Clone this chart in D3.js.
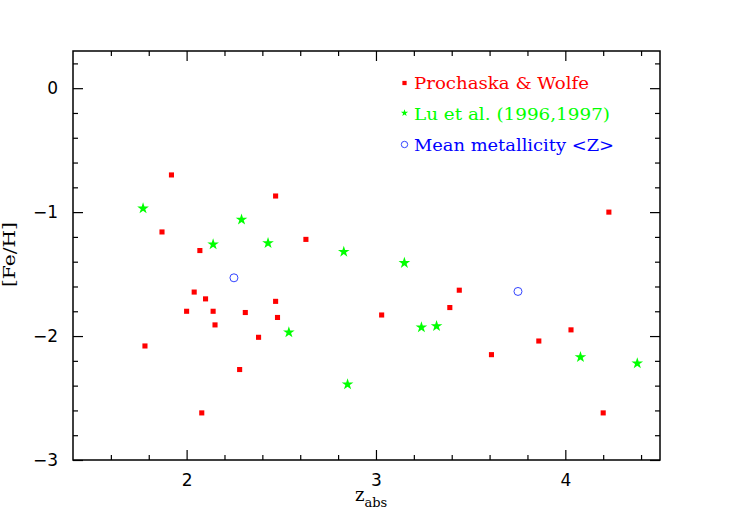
<!DOCTYPE html>
<html>
<head>
<meta charset="utf-8">
<script src="https://cdn.jsdelivr.net/npm/d3@7"></script>
<style>
  html, body { margin: 0; padding: 0; background: #fff; }
  svg { display: block; }
</style>
</head>
<body>
<svg id="chart" width="734" height="512"></svg>
<script>
// ---- Data ----
const pwZ  = [1.92, 1.87, 2.47, 4.23, 2.63, 2.07, 2.04, 2.10, 2.00, 2.14, 2.31, 2.47, 2.48, 2.15, 2.38, 1.78, 2.28, 2.08, 3.44, 3.03, 3.39, 4.03, 3.86, 3.61, 4.20];
const pwFe = [-0.70, -1.16, -0.87, -1.00, -1.22, -1.31, -1.645, -1.70, -1.80, -1.80, -1.81, -1.72, -1.85, -1.91, -2.01, -2.08, -2.27, -2.62, -1.63, -1.83, -1.77, -1.95, -2.04, -2.15, -2.62];
const luZ  = [1.77, 2.29, 2.14, 2.43, 2.54, 2.83, 3.15, 3.24, 3.32, 4.08, 4.38, 2.85];
const luFe = [-0.97, -1.06, -1.26, -1.25, -1.97, -1.32, -1.41, -1.93, -1.92, -2.17, -2.22, -2.39];
const meanZ  = [2.25, 3.75];
const meanFe = [-1.53, -1.64];

const xDomain = [1.4, 4.5];
const yDomain = [-3, 0.3];
const xMajor = [2, 3, 4];
const xMinor = [1.6, 1.8, 2.2, 2.4, 2.6, 2.8, 3.2, 3.4, 3.6, 3.8, 4.2, 4.4];
const yMajor = [0, -1, -2, -3];
const yMinor = [0.2, -0.2, -0.4, -0.6, -0.8, -1.2, -1.4, -1.6, -1.8, -2.2, -2.4, -2.6, -2.8];

const legendLabels = ["Prochaska & Wolfe", "Lu et al. (1996,1997)", "Mean metallicity <Z>"];
const legendColors = ["#ff0000", "#00ff00", "#0000ff"];
const xTitle = "z";
const xTitleSub = "abs";
const yTitle = "[Fe/H]";

// ---- Layout ----
const L = 73, R = 660, T = 51, B = 460;
const svg = d3.select("#chart");
const x = d3.scaleLinear().domain(xDomain).range([L, R]);
const y = d3.scaleLinear().domain(yDomain).range([B, T]);

const tickFont = "'DejaVu Sans', sans-serif";
const serifFont = "'DejaVu Serif', serif";

function styleAxis(g) {
  g.select(".domain").remove();
  g.selectAll(".tick line").attr("stroke", "#000").attr("stroke-width", 1.2);
  g.selectAll(".tick text").attr("fill", "#000").style("font-family", tickFont).style("font-size", "17px");
}

// Bottom axis (labels)
svg.append("g").attr("transform", `translate(0,${B})`)
  .call(d3.axisBottom(x).tickValues(xMajor).tickSize(-10).tickPadding(14).tickFormat(d3.format("d")))
  .call(styleAxis);
svg.append("g").attr("transform", `translate(0,${B})`)
  .call(d3.axisBottom(x).tickValues(xMinor).tickSize(-5).tickFormat(""))
  .call(styleAxis);
// Top axis (ticks only)
svg.append("g").attr("transform", `translate(0,${T})`)
  .call(d3.axisTop(x).tickValues(xMajor).tickSize(-10).tickFormat(""))
  .call(styleAxis);
svg.append("g").attr("transform", `translate(0,${T})`)
  .call(d3.axisTop(x).tickValues(xMinor).tickSize(-5).tickFormat(""))
  .call(styleAxis);
// Left axis (labels)
svg.append("g").attr("transform", `translate(${L},0)`)
  .call(d3.axisLeft(y).tickValues(yMajor).tickSize(-10).tickPadding(15).tickFormat(d3.format("d")))
  .call(styleAxis);
svg.append("g").attr("transform", `translate(${L},0)`)
  .call(d3.axisLeft(y).tickValues(yMinor).tickSize(-5).tickFormat(""))
  .call(styleAxis);
// Right axis (ticks only)
svg.append("g").attr("transform", `translate(${R},0)`)
  .call(d3.axisRight(y).tickValues(yMajor).tickSize(-10).tickFormat(""))
  .call(styleAxis);
svg.append("g").attr("transform", `translate(${R},0)`)
  .call(d3.axisRight(y).tickValues(yMinor).tickSize(-5).tickFormat(""))
  .call(styleAxis);

// Frame
svg.append("rect").attr("x", L).attr("y", T).attr("width", R - L).attr("height", B - T)
  .attr("fill", "none").attr("stroke", "#000").attr("stroke-width", 1.5);

// ---- Marks ----
const square = d3.symbol().type(d3.symbolSquare).size(26);
const star = d3.symbol().type(d3.symbolStar).size(42);

svg.append("g").selectAll("path").data(d3.range(pwZ.length)).join("path")
  .attr("transform", i => `translate(${x(pwZ[i])},${y(pwFe[i])})`)
  .attr("d", square).attr("fill", legendColors[0]);

svg.append("g").selectAll("path").data(d3.range(luZ.length)).join("path")
  .attr("transform", i => `translate(${x(luZ[i])},${y(luFe[i])})`)
  .attr("d", star).attr("fill", legendColors[1]);

svg.append("g").selectAll("circle").data(d3.range(meanZ.length)).join("circle")
  .attr("cx", i => x(meanZ[i])).attr("cy", i => y(meanFe[i])).attr("r", 4)
  .attr("fill", "none").attr("stroke", "#3344ff").attr("stroke-width", 1);

// ---- Legend ----
const legX = 404.5, textX = 414;
const legBase = [89, 120, 151];
const legLen = [175, 196, 200];
const lg = svg.append("g");
lg.append("path").attr("transform", `translate(${legX},${legBase[0] - 6})`)
  .attr("d", d3.symbol().type(d3.symbolSquare).size(18)).attr("fill", legendColors[0]);
lg.append("path").attr("transform", `translate(${legX},${legBase[1] - 7})`)
  .attr("d", d3.symbol().type(d3.symbolStar).size(16)).attr("fill", legendColors[1]);
lg.append("circle").attr("cx", legX).attr("cy", legBase[2] - 6.5).attr("r", 3.2)
  .attr("fill", "none").attr("stroke", "#3344ff").attr("stroke-width", 1);
legendLabels.forEach((t, i) => {
  lg.append("text").attr("x", textX).attr("y", legBase[i])
    .attr("textLength", legLen[i]).attr("lengthAdjust", "spacingAndGlyphs")
    .attr("fill", legendColors[i])
    .style("font-family", serifFont).style("font-size", "16px")
    .text(t);
});

// ---- Axis titles ----
const xt = svg.append("text").attr("x", 355).attr("y", 501)
  .style("font-family", serifFont).style("font-size", "18px").attr("fill", "#000");
xt.append("tspan").text(xTitle);
xt.append("tspan").attr("dy", 6).style("font-size", "13px").text(xTitleSub);

svg.append("text").attr("transform", "translate(15,254.5) rotate(-90)")
  .attr("text-anchor", "middle")
  .attr("textLength", 65).attr("lengthAdjust", "spacingAndGlyphs")
  .style("font-family", serifFont).style("font-size", "17px").attr("fill", "#000")
  .text(yTitle);
</script>
</body>
</html>
